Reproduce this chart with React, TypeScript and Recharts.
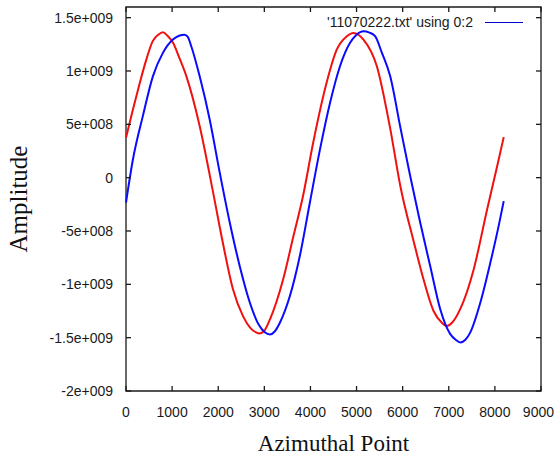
import { LineChart, Line, XAxis, YAxis, ReferenceArea } from 'recharts';

// values (azimuthal point, amplitude)
const redX = [0, 150, 300, 440, 580, 700, 800, 900, 1020, 1160, 1310, 1600, 1890, 2100, 2320, 2540, 2700, 2820, 2900, 2990, 3120, 3410, 3630, 3840, 4060, 4350, 4570, 4790, 4930, 5040, 5150, 5440, 5730, 5950, 6240, 6450, 6670, 6850, 6960, 7070, 7250, 7540, 7830, 8050, 8192];
const redY = [3.75e8, 6.4e8, 8.9e8, 1.107e9, 1.28e9, 1.34e9, 1.363e9, 1.33e9, 1.264e9, 1.12e9, 9.5e8, 4.8e8, -1.4e8, -6.1e8, -1.046e9, -1.3e9, -1.41e9, -1.45e9, -1.46e9, -1.44e9, -1.33e9, -9.5e8, -5.5e8, -1.7e8, 3.3e8, 8.9e8, 1.2e9, 1.326e9, 1.357e9, 1.34e9, 1.295e9, 1.045e9, 4.6e8, -8e7, -6.0e8, -9.5e8, -1.25e9, -1.36e9, -1.39e9, -1.36e9, -1.23e9, -8.6e8, -3.0e8, 1.1e8, 3.8e8];

const blueX = [0, 150, 365, 583, 800, 1018, 1150, 1272, 1340, 1417, 1598, 1815, 2033, 2250, 2467, 2685, 2880, 3010, 3120, 3230, 3337, 3554, 3772, 3989, 4207, 4424, 4641, 4859, 5000, 5148, 5280, 5402, 5550, 5730, 5946, 6163, 6380, 6598, 6815, 7033, 7150, 7250, 7360, 7467, 7685, 7902, 8083, 8192];
const blueY = [-2.34e8, 1.7e8, 5.77e8, 9.5e8, 1.17e9, 1.295e9, 1.33e9, 1.34e9, 1.32e9, 1.23e9, 9.5e8, 5.46e8, 4.7e7, -4.2e8, -8.3e8, -1.17e9, -1.38e9, -1.45e9, -1.47e9, -1.44e9, -1.36e9, -1.11e9, -7.3e8, -2.3e8, 2.65e8, 7.0e8, 1.045e9, 1.264e9, 1.34e9, 1.373e9, 1.36e9, 1.326e9, 1.17e9, 9.5e8, 4.8e8, 1.5e7, -4.2e8, -8.3e8, -1.233e9, -1.467e9, -1.52e9, -1.545e9, -1.52e9, -1.45e9, -1.17e9, -7.96e8, -4.5e8, -2.2e8];

const xDomain = [0, 9000];
const yDomain = [-2e9, 1.6e9];
const xTicks = [0, 1000, 2000, 3000, 4000, 5000, 6000, 7000, 8000, 9000];
const yTicks = [-2e9, -1.5e9, -1e9, -5e8, 0, 5e8, 1e9, 1.5e9];
const yTickLabels = ['-2e+009', '-1.5e+009', '-1e+009', '-5e+008', '0', '5e+008', '1e+009', '1.5e+009'];
const legendLabel = "'11070222.txt' using 0:2";

const redData = redX.map((x, i) => ({ x, y: redY[i] }));
const blueData = blueX.map((x, i) => ({ x, y: blueY[i] }));

const W = 555;
const H = 457;
const MARGIN = { top: 7, right: 14, bottom: 0, left: 0 };
const INK = '#1a1a1a';
const TICK_LEN = 5;
const tickFont = { fontFamily: '"Liberation Sans", Arial, sans-serif', fontSize: 14, fill: INK };
const titleFont = { fontFamily: '"Liberation Serif", "Times New Roman", serif', fill: '#111' };
const frameStroke = { stroke: INK, strokeWidth: 1.3 };

const yLabelFor = (v: number) => {
  const i = yTicks.indexOf(v);
  return i >= 0 ? yTickLabels[i] : String(v);
};

// gnuplot style: ticks point into the frame, mirrored on top / right
function BottomTick(props: any) {
  const { x, y, payload, index } = props;
  const top = MARGIN.top;
  // keep the last label inside the page edge
  const isLast = index === xTicks.length - 1;
  return (
    <g>
      <line x1={x} y1={y} x2={x} y2={y - TICK_LEN} {...frameStroke} />
      <line x1={x} y1={top} x2={x} y2={top + TICK_LEN} {...frameStroke} />
      <text x={isLast ? W - 1 : x} y={y + 16} dy="0.71em" textAnchor={isLast ? 'end' : 'middle'} {...tickFont}>
        {payload.value}
      </text>
    </g>
  );
}

function LeftTick(props: any) {
  const { x, y, payload } = props;
  const right = W - MARGIN.right;
  return (
    <g>
      <line x1={x} y1={y} x2={x + TICK_LEN} y2={y} {...frameStroke} />
      <line x1={right} y1={y} x2={right - TICK_LEN} y2={y} {...frameStroke} />
      <text x={x - 13} y={y} dy="0.355em" textAnchor="end" {...tickFont}>
        {yLabelFor(payload.value)}
      </text>
    </g>
  );
}

const renderYTitle = (props: any) => {
  const { viewBox } = props;
  const cx = 18;
  const cy = viewBox.y + viewBox.height / 2;
  return (
    <text x={cx} y={cy} transform={`rotate(-90 ${cx} ${cy})`} textAnchor="middle" dominantBaseline="central" fontSize={25} {...titleFont}>
      Amplitude
    </text>
  );
};

const renderXTitle = (props: any) => {
  const { viewBox } = props;
  return (
    <text x={viewBox.x + viewBox.width / 2} y={451} textAnchor="middle" fontSize={23} {...titleFont}>
      Azimuthal Point
    </text>
  );
};

export default function App() {
  return (
    <div style={{ position: 'absolute', left: 0, top: 0, width: W, height: H, background: '#fff' }}>
      <LineChart width={W} height={H} margin={MARGIN}>
        <XAxis
          type="number"
          dataKey="x"
          domain={xDomain}
          ticks={xTicks}
          height={66}
          tickSize={0}
          tickMargin={0}
          tickLine={false}
          axisLine={false}
          tick={<BottomTick />}
          interval={0}
          label={renderXTitle}
        />
        <YAxis
          type="number"
          domain={yDomain}
          ticks={yTicks}
          width={126}
          tickSize={0}
          tickMargin={0}
          tickLine={false}
          axisLine={false}
          tick={<LeftTick />}
          interval={0}
          label={renderYTitle}
        />
        {/* plot frame */}
        <ReferenceArea
          x1={xDomain[0]}
          x2={xDomain[1]}
          y1={yDomain[0]}
          y2={yDomain[1]}
          fill="#ffffff"
          fillOpacity={0}
          stroke={INK}
          strokeWidth={1.3}
          strokeOpacity={1}
          ifOverflow="visible"
        />
        <Line
          data={redData}
          dataKey="y"
          type="monotone"
          stroke="#f01010"
          strokeWidth={2}
          dot={false}
          isAnimationActive={false}
        />
        <Line
          data={blueData}
          dataKey="y"
          type="monotone"
          stroke="#0a0aff"
          strokeWidth={2}
          dot={false}
          isAnimationActive={false}
        />
      </LineChart>
      <div
        style={{
          position: 'absolute',
          top: 13,
          left: 300,
          width: 173,
          textAlign: 'right',
          fontFamily: '"Liberation Sans", Arial, sans-serif',
          fontSize: 14,
          lineHeight: '18px',
          color: INK,
          whiteSpace: 'nowrap',
        }}
      >
        {legendLabel}
      </div>
      <div style={{ position: 'absolute', top: 22, left: 485, width: 38, borderTop: '1px solid #0000cc' }} />
    </div>
  );
}
